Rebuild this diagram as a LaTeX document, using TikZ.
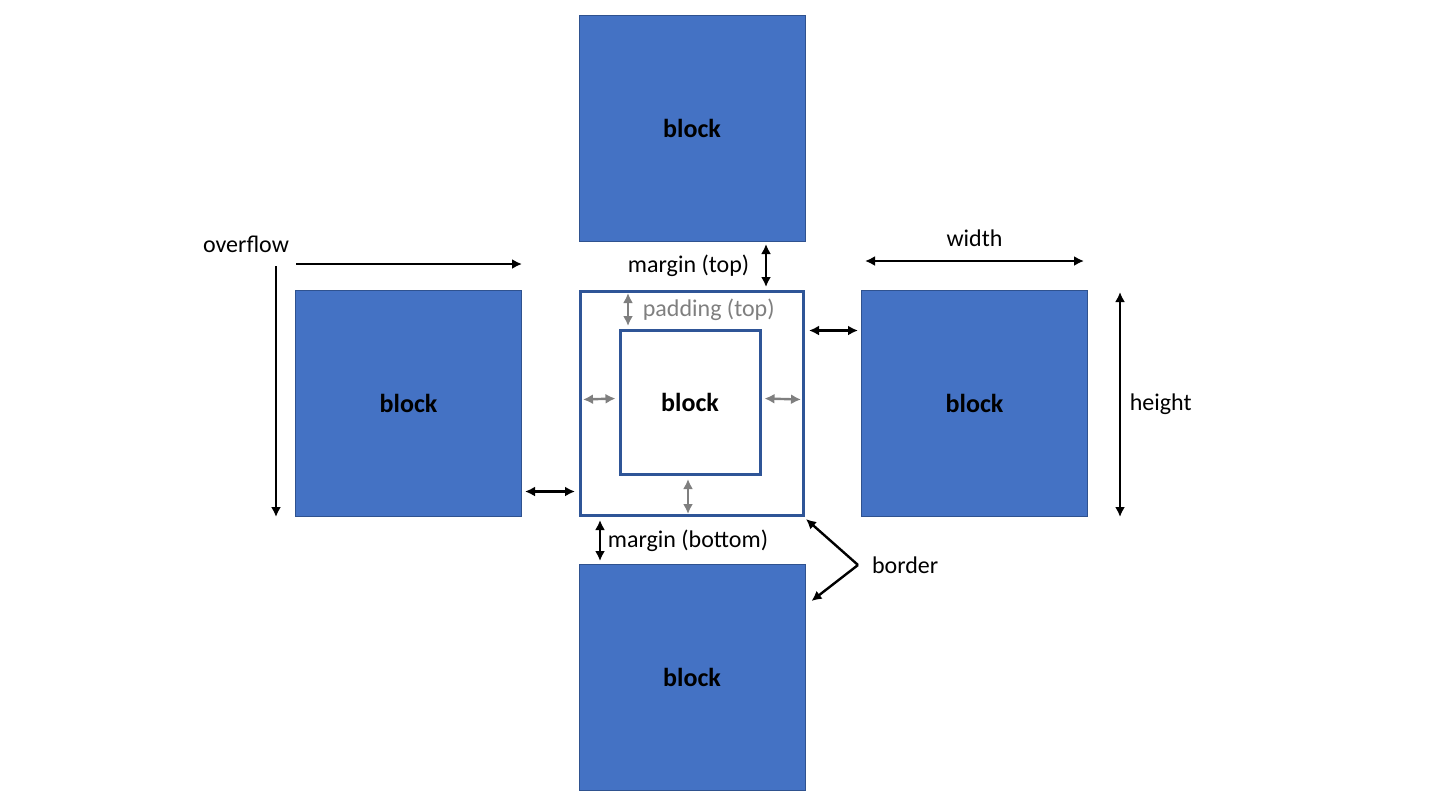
\documentclass[tikz,border=0pt]{standalone}
\usepackage{fontspec}
\setmainfont{Carlito}
\usetikzlibrary{arrows.meta, positioning}
\definecolor{blockblue}{HTML}{4472C4}
\definecolor{blockedge}{HTML}{2F528F}
\definecolor{boxedge}{HTML}{2F5597}
\definecolor{padgray}{HTML}{7F7F7F}
\tikzset{
  blk/.style={draw=blockedge, line width=0.5pt, fill=blockblue, minimum width=113pt,
    minimum height=113pt, inner sep=0pt, font=\fontsize{13}{15}\selectfont\bfseries},
  frame/.style={draw=boxedge, line width=1.5pt, inner sep=0pt},
  lbl/.style={font=\fontsize{12}{14}\selectfont},
  dim/.style={line width=1.2pt, black},
  pad/.style={line width=1.2pt, padgray},
}

\begin{document}
\begin{tikzpicture}[x=0.5pt, y=-0.5pt, >={Latex[length=5pt,width=5pt]}]
  \useasboundingbox (0,0) rectangle (1440,810);

  \node[frame, minimum width=111.5pt, minimum height=112pt] (box) at (692,403.5) {};
  \node[frame, minimum width=70pt, minimum height=72pt,
    font=\fontsize{13}{15}\selectfont\bfseries] (inner) at (690,402.5) {block};
  \node[blk, above=24pt of box] (top) {block};
  \node[blk, left=28.5pt of box] (left) {block};
  \node[blk, right=28pt of box] (right) {block};
  \node[blk, below=23.5pt of box] (bottom) {block};

  % margins
  \draw[dim, <->] ([xshift=37pt,yshift=-1pt]top.south) --
    node[lbl, left, xshift=-4.5pt]{margin (top)} ([xshift=37pt,yshift=1.5pt]box.north);
  \draw[dim, <->] ([xshift=1.5pt,yshift=-44pt]left.east) -- ([xshift=-2pt,yshift=-44pt]box.west);
  \draw[dim, <->] ([xshift=2pt,yshift=36.5pt]box.east) -- ([xshift=-1.5pt,yshift=36.5pt]right.west);
  \draw[dim, <->] ([xshift=-46pt,yshift=-1.5pt]box.south) --
    node[lbl, right]{margin (bottom)} ([xshift=-46pt,yshift=1.5pt]bottom.north);

  % padding
  \draw[pad, <->] ([xshift=-32pt,yshift=-1.5pt]box.north) --
    node[lbl, right, xshift=3.5pt, text=padgray]{padding (top)} ([xshift=-31pt,yshift=1.5pt]inner.north);
  \draw[pad, <->] ([xshift=2pt,yshift=2pt]box.west) -- ([xshift=-1.5pt,yshift=2pt]inner.west);
  \draw[pad, <->] ([xshift=1.5pt,yshift=2pt]inner.east) -- ([xshift=-2pt,yshift=2pt]box.east);
  \draw[pad, <->] ([xshift=-1pt,yshift=-1.5pt]inner.south) -- ([xshift=-2pt,yshift=1.5pt]box.south);

  % border
  \coordinate (bk) at ([xshift=26.5pt,yshift=-24pt]box.south east);
  \node[lbl, right=3.5pt of bk] (border) {border};
  \draw[dim, ->] (bk) -- ([xshift=0.5pt,yshift=-1pt]box.south east);
  \draw[dim, ->] (bk) -- ([xshift=3pt,yshift=-18.5pt]bottom.north east);

  % overflow
  \node[lbl] (ovf) at ([xshift=-24.5pt,yshift=23pt]left.north west) {overflow};
  \draw[dim, ->] ([xshift=0.5pt,yshift=13pt]left.north west) -- ([yshift=13pt]left.north east);
  \draw[dim, ->] ([xshift=-9.5pt,yshift=12pt]left.north west) -- ([xshift=-9.5pt]left.south west);

  % width and height
  \draw[dim, <->] ([xshift=2pt,yshift=14.5pt]right.north west) --
    node[lbl, above=3pt]{width} ([xshift=-2pt,yshift=14.5pt]right.north east);
  \draw[dim, <->] ([xshift=16pt,yshift=-1pt]right.north east) --
    node[lbl, right, xshift=1pt]{height} ([xshift=16pt]right.south east);
\end{tikzpicture}
\end{document}
